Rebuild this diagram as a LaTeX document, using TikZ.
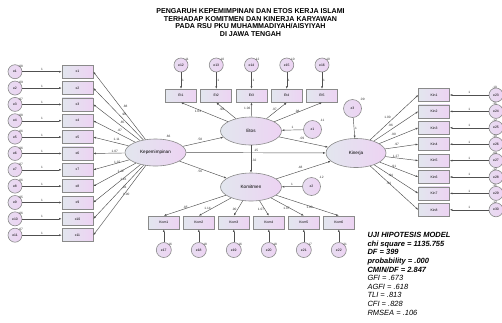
\documentclass[tikz,border=0pt]{standalone}
\usepackage{fontspec}
\setmainfont{Liberation Sans}
\usetikzlibrary{shapes.geometric,arrows.meta}
\definecolor{lineg}{HTML}{505050}
\definecolor{bord}{HTML}{8A8A8A}
\definecolor{lc}{HTML}{E2E6EE}
\definecolor{rc}{HTML}{EDD3F3}
\definecolor{cf}{HTML}{E9DAF1}
\begin{document}
\begin{tikzpicture}[x=1pt,y=-1pt,
 obs/.style={draw=bord,line width=0.6pt,minimum width=31pt,minimum height=13pt,inner sep=0pt,left color=lc,right color=rc,font=\fontsize{3.4}{4}\selectfont},
 err/.style={circle,draw=bord,line width=0.6pt,minimum size=14pt,inner sep=0pt,left color=lc!50!rc,right color=rc,font=\fontsize{3.4}{4}\selectfont},
 dist/.style={err,minimum size=18pt},
 lat/.style={ellipse,draw=bord,line width=0.6pt,minimum width=61pt,minimum height=27pt,inner sep=0pt,left color=lc,right color=rc,font=\fontsize{4.6}{5}\selectfont},
 arr/.style={-{Latex[length=2.6pt,width=2pt]},draw=lineg,line width=0.45pt},
 lab/.style={font=\fontsize{3.2}{4}\selectfont,inner sep=0.8pt,text=black!80},
 ttl/.style={font=\fontsize{7.1}{7.7}\selectfont\bfseries,anchor=base},
 stb/.style={font=\fontsize{7.5}{8.6}\selectfont\bfseries\itshape,anchor=base west},
 stn/.style={font=\fontsize{7.5}{8.6}\selectfont\itshape,anchor=base west}
]
\useasboundingbox (0,0) rectangle (502,322);
% title
\node[ttl] (t1) at (250.5,13.4) {PENGARUH KEPEMIMPINAN DAN ETOS KERJA ISLAMI};
\node[ttl] (t2) at (250.5,21.1) {TERHADAP KOMITMEN DAN KINERJA KARYAWAN};
\node[ttl] (t3) at (250.5,28.8) {PADA RSU PKU MUHAMMADIYAH/AISYIYAH};
\node[ttl] (t4) at (250.5,36.5) {DI JAWA TENGAH};
% latent variables
\node[lat] (kep) at (155.5,152.5) {Kepemimpinan};
\node[lat,minimum height=28pt] (etos) at (251,131) {Etos};
\node[lat,minimum height=28pt] (kom) at (251,187) {Komitmen};
\node[lat,minimum width=60pt,minimum height=29pt] (kin) at (356,153) {Kinerja};
\node[dist] (z1) at (312.5,129.5) {z1};
\node[dist] (z2) at (311.5,186.5) {z2};
\node[dist] (z3) at (352.5,108.5) {z3};
\node[lab,anchor=south west] (vk) at (165,139) {.66};
\node[lab,anchor=south west] (vz1) at (z1.north east) {.11};
\node[lab,anchor=south west] (vz2) at (z2.north east) {.12};
\node[lab,anchor=south west] (vz3) at (z3.north east) {.09};
% left block
\foreach \i/\v in {1/.08,2/.09,3/.07,4/.08,5/.06,6/.06,7/.07,8/.06,9/.05,10/.06,11/.07}{
  \pgfmathsetmacro\yy{71.7+(\i-1)*16.35}
  \node[err] (e\i) at (15,\yy) {e\i};
  \node[obs] (x\i) at (77.5,\yy) {x\i};
  \draw[arr] (e\i) -- node[lab,above]{1} (x\i);
  \node[lab,anchor=south west,inner sep=0pt] at ([xshift=-2pt,yshift=-1pt]e\i.north east) {\v};
}
\foreach \i/\l in {1/.88,2/.90,3/.85,4/.87,5/1.11,6/1.07,7/1.07,8/1.12,9/1.16,10/.93,11/1.00}{
  \draw[arr] (kep) -- node[lab,pos=0.45,above right]{\l} (x\i.east);
}
% Etos block
\foreach \i/\l/\v [count=\k] in {1/1.03/.11,2/.98/.10,3/1.06/.12,4/.97/.10,5/.98/.10}{
  \pgfmathsetmacro\xx{181+(\i-1)*35.25}
  \pgfmathtruncatemacro\en{11+\i}
  \node[obs] (et\i) at (\xx,95.7) {Et\i};
  \node[err] (e\en) at (\xx,65) {e\en};
  \draw[arr] (e\en) -- node[lab,right]{1} (et\i);
  \draw[arr] (etos) -- node[lab,pos=0.55,left]{\l} (et\i.south);
  \node[lab,anchor=south west,inner sep=0pt] at ([xshift=-2pt,yshift=-1pt]e\en.north east) {\v};
}
% Komitmen block
\foreach \i/\l/\v in {1/.85/.16,2/1.14/.18,3/.90/.16,4/1.07/.18,5/1.07/.17,6/1.00/.21}{
  \pgfmathsetmacro\xx{163.8+(\i-1)*35}
  \pgfmathtruncatemacro\en{16+\i}
  \node[obs] (km\i) at (\xx,222.5) {Kom\i};
  \node[err,minimum size=15pt] (e\en) at (\xx,250) {e\en};
  \draw[arr] (e\en) -- (km\i);
  \draw[arr] (kom) -- node[lab,pos=0.6,left]{\l} (km\i.north);
  \node[lab,anchor=south west,inner sep=0pt] at ([xshift=-2pt,yshift=-1pt]e\en.north east) {\v};
}
% Kinerja block
\foreach \i/\l/\v in {1/1.00/.10,2/.96/.11,3/.90/.12,4/.97/.10,5/1.27/.09,6/.91/.12,7/.94/.11,8/.94/.12}{
  \pgfmathsetmacro\yy{95+(\i-1)*16.4}
  \pgfmathtruncatemacro\en{22+\i}
  \node[obs] (kn\i) at (434,\yy) {Kin\i};
  \node[err] (e\en) at (496,\yy) {e\en};
  \draw[arr] (e\en) -- node[lab,above]{1} (kn\i);
  \draw[arr] (kin) -- node[lab,pos=0.45,above left]{\l} (kn\i.west);
  \node[lab,anchor=south east,inner sep=0pt] at ([xshift=1pt,yshift=-1pt]e\en.north) {\v};
}
% structural paths
\draw[arr] (kep) -- node[lab,above left]{.58} (etos);
\draw[arr] (kep) -- node[lab,below left]{.56} (kom);
\draw[arr] (kep) -- node[lab,pos=0.5,above]{.15} (kin);
\draw[arr] (etos) -- node[lab,pos=0.55,right]{.32} (kom);
\draw[arr] (etos) -- node[lab,pos=0.4,above right]{.09} (kin);
\draw[arr] (kom) -- node[lab,pos=0.5,above left]{.48} (kin);
\draw[arr] (z1) -- node[lab,above]{1} (etos);
\draw[arr] (z2) -- node[lab,above]{1} (kom);
\draw[arr] (z3) -- node[lab,right]{1} (kin);
% statistics
\node[stb] (s1) at (364,237.7) {UJI HIPOTESIS MODEL};
\node[stb] (s2) at (364,246.3) {chi square = 1135.755};
\node[stb] (s3) at (364,254.9) {DF = 399};
\node[stb] (s4) at (364,263.5) {probability = .000};
\node[stb] (s5) at (364,272.1) {CMIN/DF = 2.847};
\node[stn] (s6) at (364,280.7) {GFI = .673};
\node[stn] (s7) at (364,289.3) {AGFI = .618};
\node[stn] (s8) at (364,297.9) {TLI = .813};
\node[stn] (s9) at (364,306.5) {CFI = .828};
\node[stn] (s10) at (364,315.1) {RMSEA = .106};
\end{tikzpicture}
\end{document}
